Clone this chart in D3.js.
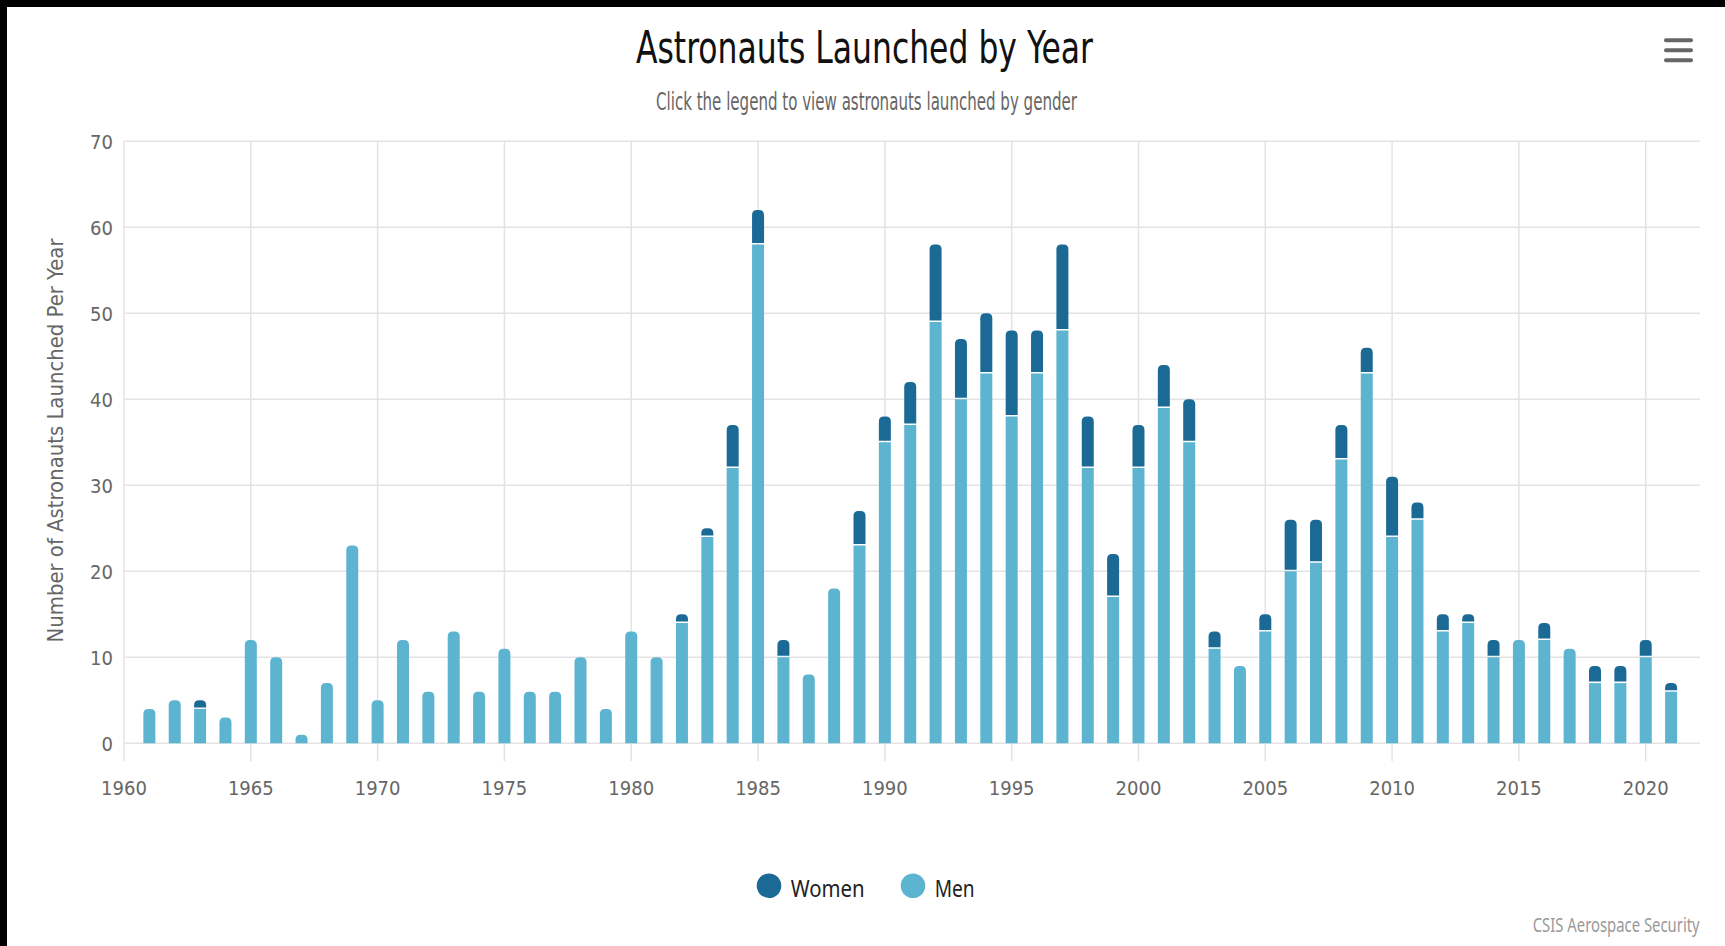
<!DOCTYPE html>
<html>
<head>
<meta charset="utf-8">
<script src="https://cdn.jsdelivr.net/npm/d3@7"></script>
<style>
  body { margin: 0; background: #fff; }
  svg { display: block; }
  .narrow { font-family: "Liberation Sans Narrow", "DejaVu Sans Condensed", "Roboto", sans-serif; font-stretch: condensed; }
  .legendtext { font-family: "Noto Sans", "Open Sans", sans-serif; }
</style>
</head>
<body>
<svg width="1725" height="946" viewBox="0 0 1725 946"></svg>
<script>
// data
var years = [1961, 1962, 1963, 1964, 1965, 1966, 1967, 1968, 1969, 1970,
             1971, 1972, 1973, 1974, 1975, 1976, 1977, 1978, 1979, 1980,
             1981, 1982, 1983, 1984, 1985, 1986, 1987, 1988, 1989, 1990,
             1991, 1992, 1993, 1994, 1995, 1996, 1997, 1998, 1999, 2000,
             2001, 2002, 2003, 2004, 2005, 2006, 2007, 2008, 2009, 2010,
             2011, 2012, 2013, 2014, 2015, 2016, 2017, 2018, 2019, 2020,
             2021];

var men = [4, 5, 4, 3, 12, 10, 1, 7, 23, 5,
           12, 6, 13, 6, 11, 6, 6, 10, 4, 13,
           10, 14, 24, 32, 58, 10, 8, 18, 23, 35,
           37, 49, 40, 43, 38, 43, 48, 32, 17, 32,
           39, 35, 11, 9, 13, 20, 21, 33, 43, 24,
           26, 13, 14, 10, 12, 12, 11, 7, 7, 10,
           6];

var women = [0, 0, 1, 0, 0, 0, 0, 0, 0, 0,
             0, 0, 0, 0, 0, 0, 0, 0, 0, 0,
             0, 1, 1, 5, 4, 2, 0, 0, 4, 3,
             5, 9, 7, 7, 10, 5, 10, 6, 5, 5,
             5, 5, 2, 0, 2, 6, 5, 4, 3, 7,
             2, 2, 1, 2, 0, 2, 0, 2, 2, 2,
             1];

var yTicks = [0, 10, 20, 30, 40, 50, 60, 70];
var xTicks = [1960, 1965, 1970, 1975, 1980, 1985, 1990, 1995, 2000, 2005, 2010, 2015, 2020];

var seriesNames = ["Women", "Men"];
var seriesColors = ["#1b6a96", "#5cb4d1"];

var canvas = d3.select("svg");

// page frame (black edges of the screenshot)
canvas.append("rect").attr("x", 0).attr("y", 0).attr("width", 1725).attr("height", 946).style("fill", "#fff");
canvas.append("rect").attr("x", 0).attr("y", 0).attr("width", 1725).attr("height", 7).style("fill", "#000");
canvas.append("rect").attr("x", 0).attr("y", 0).attr("width", 7).attr("height", 946).style("fill", "#000");

// scales
var x = d3.scaleLinear().domain([1960, 2022.14]).range([124, 1700]);
var y = d3.scaleLinear().domain([0, 70]).range([743.3, 141.3]);

// horizontal grid
canvas.selectAll(".hgrid")
    .data(yTicks)
    .enter()
        .append("line")
        .attr("class", "hgrid")
        .attr("x1", x(1960))
        .attr("x2", x.range()[1])
        .attr("y1", function(d) { return y(d); })
        .attr("y2", function(d) { return y(d); })
        .style("stroke", "#e3e3e3")
        .style("stroke-width", 1.5);

// vertical grid + ticks
canvas.selectAll(".vgrid")
    .data(xTicks)
    .enter()
        .append("line")
        .attr("class", "vgrid")
        .attr("x1", function(d) { return x(d); })
        .attr("x2", function(d) { return x(d); })
        .attr("y1", y(70))
        .attr("y2", y(0) + 18)
        .style("stroke", "#e3e3e3")
        .style("stroke-width", 1.5);

// y labels
canvas.selectAll(".ylab")
    .data(yTicks)
    .enter()
        .append("text")
        .attr("class", "ylab narrow")
        .attr("x", 113)
        .attr("y", function(d) { return y(d); })
        .attr("dy", "0.36em")
        .attr("text-anchor", "end")
        .style("font-size", "20px")
        .style("fill", "#666")
        .text(function(d) { return d; });

// x labels
canvas.selectAll(".xlab")
    .data(xTicks)
    .enter()
        .append("text")
        .attr("class", "xlab narrow")
        .attr("x", function(d) { return x(d); })
        .attr("y", 795)
        .attr("text-anchor", "middle")
        .style("font-size", "20px")
        .style("fill", "#666")
        .text(function(d) { return d; });

// bars: rounded top on whichever segment is on top
var barW = 12;
var radius = 5;

function barPath(x0, yTop, yBot, rounded) {
    var w = barW, h = yBot - yTop;
    if (h <= 0) return "";
    if (!rounded) return "M" + x0 + "," + yBot + "V" + yTop + "H" + (x0 + w) + "V" + yBot + "Z";
    var r = Math.min(radius, h, w / 2);
    return "M" + x0 + "," + yBot +
        "V" + (yTop + r) +
        "Q" + x0 + "," + yTop + " " + (x0 + r) + "," + yTop +
        "H" + (x0 + w - r) +
        "Q" + (x0 + w) + "," + yTop + " " + (x0 + w) + "," + (yTop + r) +
        "V" + yBot + "Z";
}

var rows = years.map(function(yr, i) { return { year: yr, men: men[i], women: women[i] }; });

// men
canvas.selectAll(".men")
    .data(rows)
    .enter()
        .append("path")
        .attr("class", "men")
        .attr("d", function(d) {
            return barPath(x(d.year) - barW / 2, y(d.men), y(0), d.women === 0);
        })
        .style("fill", seriesColors[1]);

// women on top, separated by a thin white gap
canvas.selectAll(".women")
    .data(rows.filter(function(d) { return d.women > 0; }))
    .enter()
        .append("path")
        .attr("class", "women")
        .attr("d", function(d) {
            return barPath(x(d.year) - barW / 2, y(d.men + d.women), y(d.men) - 1.5, true);
        })
        .style("fill", seriesColors[0]);

// title
canvas.append("text")
    .attr("class", "narrow")
    .attr("x", 864.5)
    .attr("y", 62.7)
    .attr("text-anchor", "middle")
    .attr("textLength", 457)
    .attr("lengthAdjust", "spacingAndGlyphs")
    .style("font-size", "45px")
    .style("fill", "#111")
    .text("Astronauts Launched by Year");

canvas.append("text")
    .attr("class", "narrow")
    .attr("x", 866.5)
    .attr("y", 110)
    .attr("text-anchor", "middle")
    .attr("textLength", 421)
    .attr("lengthAdjust", "spacingAndGlyphs")
    .style("font-size", "24px")
    .style("fill", "#666")
    .text("Click the legend to view astronauts launched by gender");

// y axis title
canvas.append("text")
    .attr("class", "narrow")
    .attr("transform", "translate(63,440.5) rotate(-90)")
    .attr("text-anchor", "middle")
    .attr("textLength", 404)
    .attr("lengthAdjust", "spacingAndGlyphs")
    .style("font-size", "22px")
    .style("fill", "#666")
    .text("Number of Astronauts Launched Per Year");

// legend
var legendX = [769, 913];
var legendW = [74, 40];
seriesNames.forEach(function(name, i) {
    canvas.append("circle")
        .attr("cx", legendX[i])
        .attr("cy", 885.7)
        .attr("r", 12.3)
        .style("fill", seriesColors[i]);
    canvas.append("text")
        .attr("class", "legendtext")
        .attr("x", legendX[i] + 21.7)
        .attr("y", 897.3)
        .attr("textLength", legendW[i])
        .attr("lengthAdjust", "spacingAndGlyphs")
        .style("font-size", "24px")
        .style("fill", "#222")
        .text(name);
});

// credits
canvas.append("text")
    .attr("class", "legendtext")
    .attr("x", 1532.7)
    .attr("y", 932)
    .attr("textLength", 167)
    .attr("lengthAdjust", "spacingAndGlyphs")
    .style("font-size", "19px")
    .style("fill", "#999")
    .text("CSIS Aerospace Security");

// menu button
var menuLines = [40.3, 50.3, 60.3];
menuLines.forEach(function(yy) {
    canvas.append("line")
        .attr("x1", 1666).attr("x2", 1691)
        .attr("y1", yy).attr("y2", yy)
        .style("stroke", "#666")
        .style("stroke-width", 4)
        .style("stroke-linecap", "round");
});
</script>
</body>
</html>
